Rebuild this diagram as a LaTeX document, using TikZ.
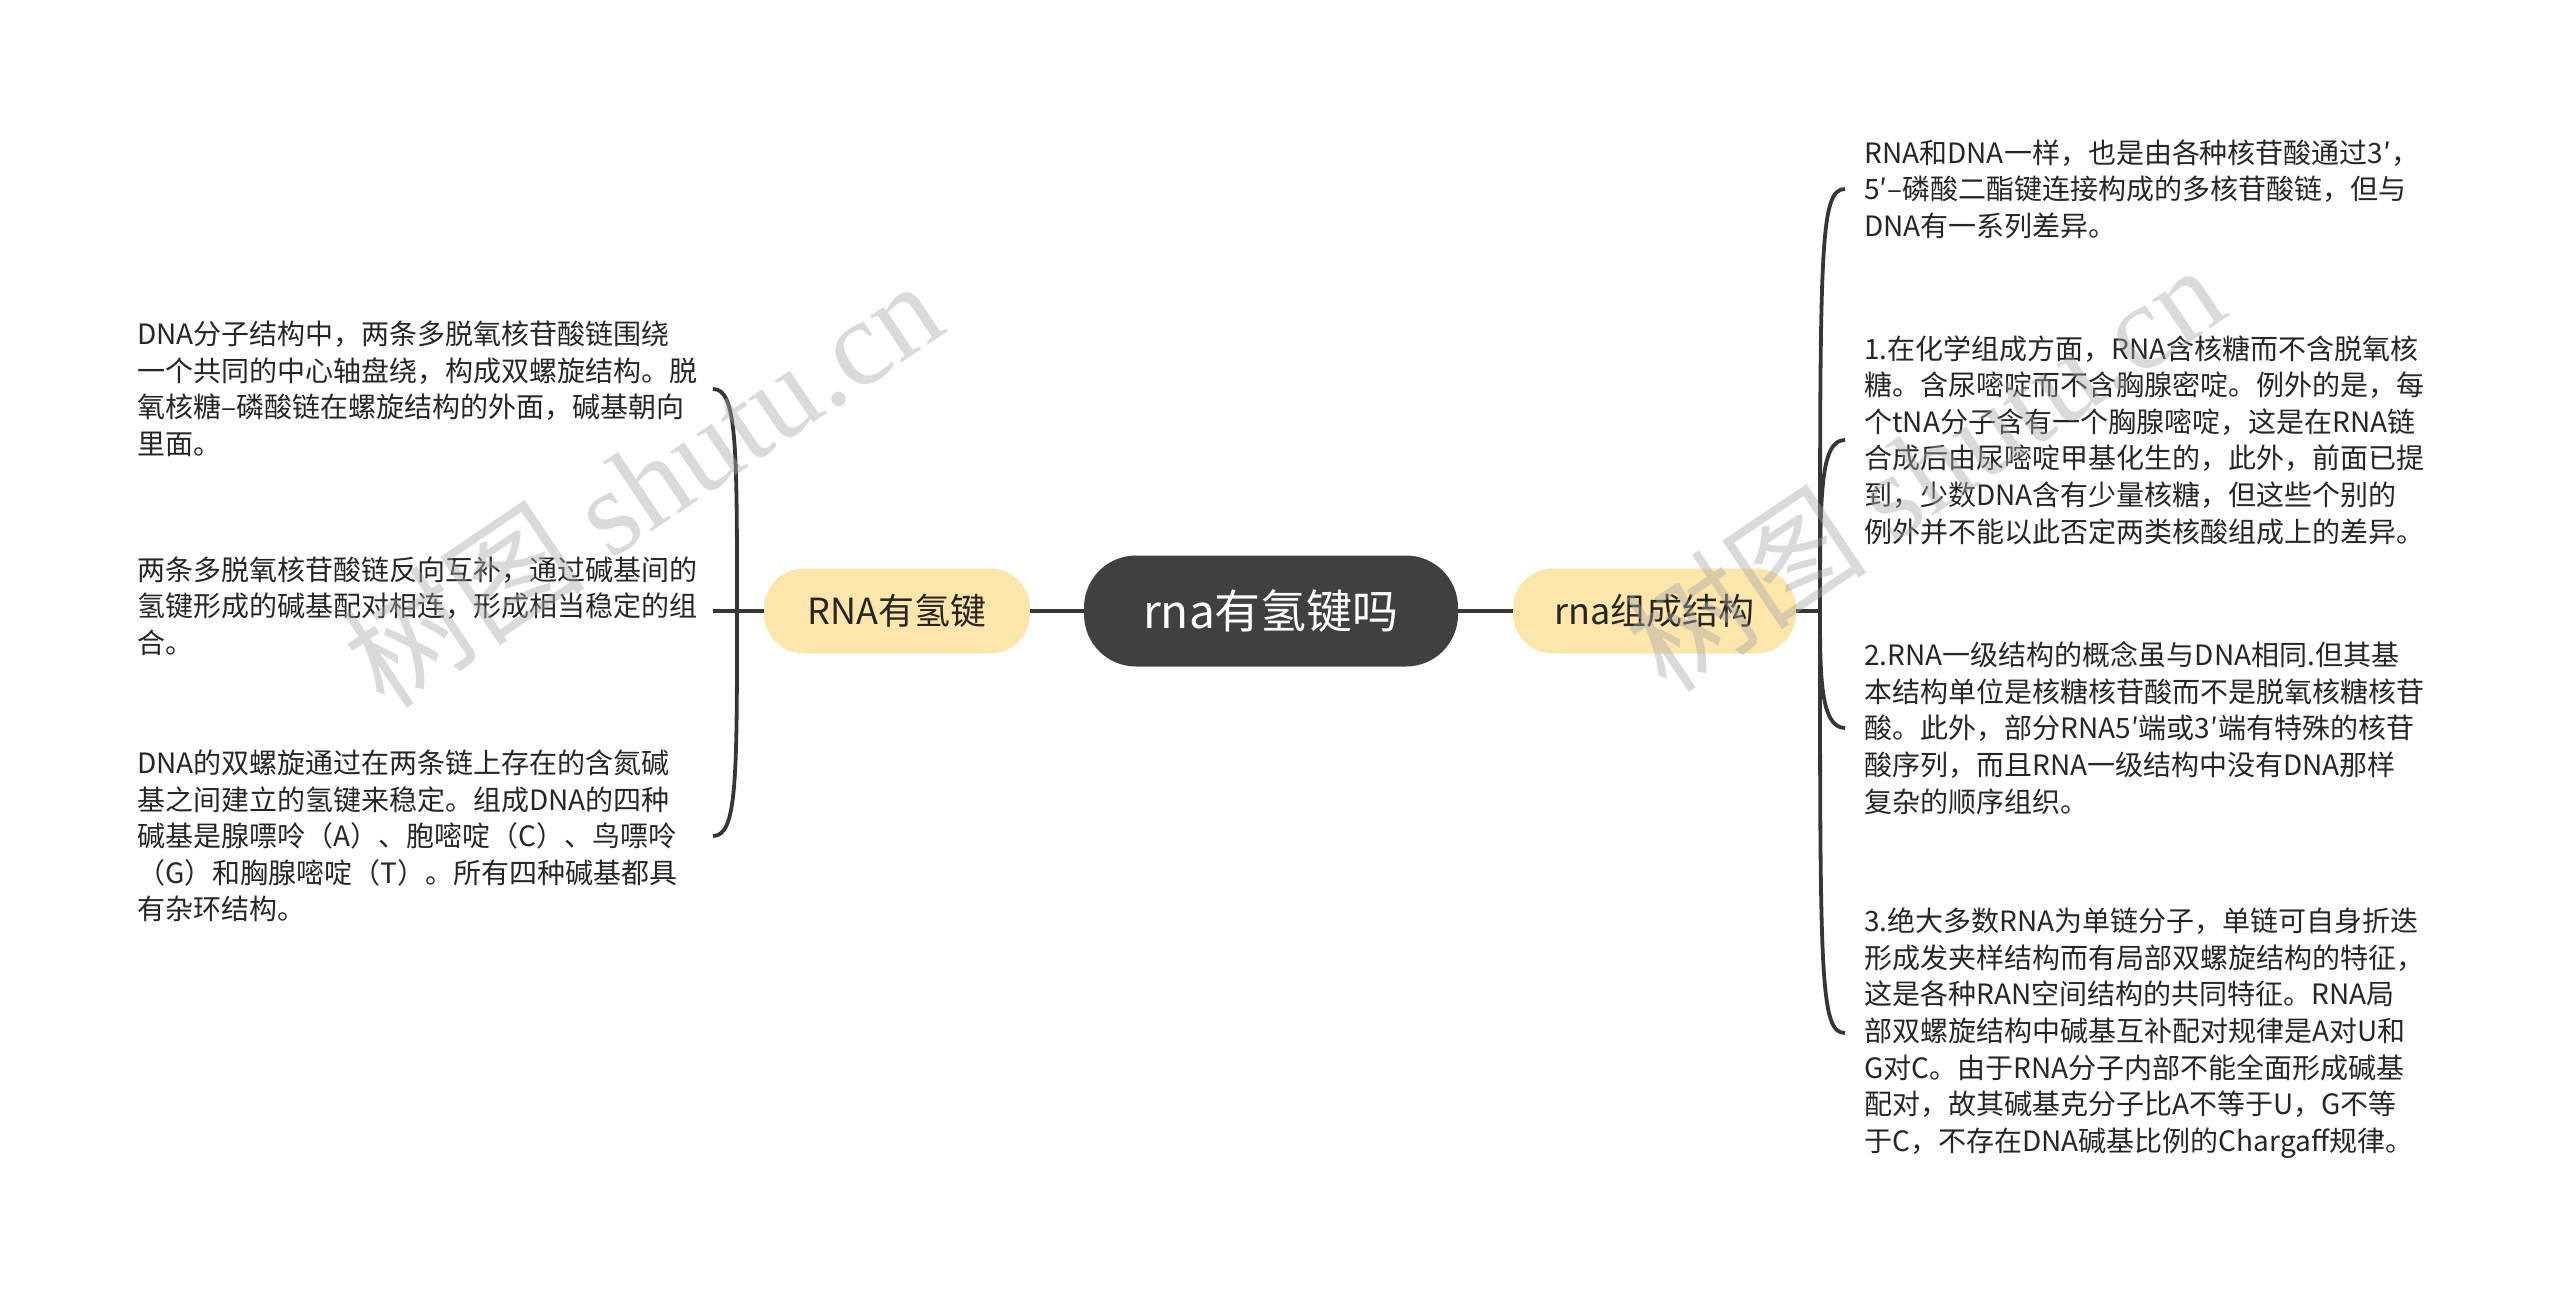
\documentclass[tikz,border=0pt]{standalone}
\usepackage{fontspec}
\setmainfont{Noto Sans CJK SC}
\newfontfamily\wmserif{Liberation Serif}
\definecolor{centrefill}{HTML}{404040}
\definecolor{subfill}{HTML}{FDE6AB}
\definecolor{txtc}{HTML}{262626}
\definecolor{linec}{HTML}{363636}
\definecolor{wmc}{HTML}{A8A8A8}
\begin{document}
\begin{tikzpicture}[x=0.5pt,y=-0.5pt,
  conn/.style={draw=linec,line width=1.9pt},
  centrebox/.style={fill=centrefill,text=white,rounded corners=26pt,minimum width=187pt,minimum height=55.5pt,inner sep=0pt,font=\fontsize{23pt}{27pt}\selectfont},
  subbox/.style={fill=subfill,text=txtc,rounded corners=20pt,minimum height=42.5pt,inner sep=0pt,font=\fontsize{18pt}{22pt}\selectfont},
  txt/.style={text=txtc,align=left,inner sep=0pt,font=\fontsize{14pt}{18.3pt}\selectfont},
  wm/.style={text=wmc,opacity=0.42,inner sep=0pt,font=\fontsize{61pt}{68pt}\selectfont}]
\useasboundingbox (0,0) rectangle (2560,1295);
\fill[white] (0,0) rectangle (2560,1295);

% main nodes
\node[centrebox] (c) at (1271,611) {rna有氢键吗};
\node[subbox,minimum width=133pt] (ln) at (897,611) {RNA有氢键};
\node[subbox,minimum width=141.5pt] (rn) at (1654.5,611) {rna组成结构};

% junctions
\coordinate (jl) at (737,611);
\coordinate (jr) at (1820,611);
\coordinate (lx) at (713,0);

% left texts
\node[txt,anchor=west] (l1) at (137,389) {DNA分子结构中，两条多脱氧核苷酸链围绕\\一个共同的中心轴盘绕，构成双螺旋结构。脱\\氧核糖–磷酸链在螺旋结构的外面，碱基朝向\\里面。};
\node[txt,anchor=west] (l2) at (137,606) {两条多脱氧核苷酸链反向互补，通过碱基间的\\氢键形成的碱基配对相连，形成相当稳定的组\\合。};
\node[txt,anchor=west] (l3) at (137,836) {DNA的双螺旋通过在两条链上存在的含氮碱\\基之间建立的氢键来稳定。组成DNA的四种\\碱基是腺嘌呤（A）、胞嘧啶（C）、鸟嘌呤\\（G）和胸腺嘧啶（T）。所有四种碱基都具\\有杂环结构。};

% right texts
\node[txt,anchor=west] (r1) at (1864,189) {RNA和DNA一样，也是由各种核苷酸通过3′，\\5′–磷酸二酯键连接构成的多核苷酸链，但与\\DNA有一系列差异。};
\node[txt,anchor=west] (r2) at (1864,440) {1.在化学组成方面，RNA含核糖而不含脱氧核\\糖。含尿嘧啶而不含胸腺密啶。例外的是，每\\个tNA分子含有一个胸腺嘧啶，这是在RNA链\\合成后由尿嘧啶甲基化生的，此外，前面已提\\到，少数DNA含有少量核糖，但这些个别的\\例外并不能以此否定两类核酸组成上的差异。};
\node[txt,anchor=west] (r3) at (1864,728) {2.RNA一级结构的概念虽与DNA相同.但其基\\本结构单位是核糖核苷酸而不是脱氧核糖核苷\\酸。此外，部分RNA5′端或3′端有特殊的核苷\\酸序列，而且RNA一级结构中没有DNA那样\\复杂的顺序组织。};
\node[txt,anchor=west] (r4) at (1864,1033) {3.绝大多数RNA为单链分子，单链可自身折迭\\形成发夹样结构而有局部双螺旋结构的特征，\\这是各种RAN空间结构的共同特征。RNA局\\部双螺旋结构中碱基互补配对规律是A对U和\\G对C。由于RNA分子内部不能全面形成碱基\\配对，故其碱基克分子比A不等于U，G不等\\于C，不存在DNA碱基比例的Chargaff规律。};

% main connectors
\draw[conn] (c.west) -- (ln.east);
\draw[conn] (c.east) -- (rn.west);
\draw[conn] (ln.west) -- (jl);
\draw[conn] (rn.east) -- (jr);

% left bracket
\draw[conn] (jl) .. controls (737,445) and (737,389) .. (l1.east -| lx);
\draw[conn] (lx |- jl) -- (jl);
\draw[conn] (jl) .. controls (737,780) and (737,836) .. (l3.east -| lx);

% right bracket
\draw[conn] (jr) .. controls (1820,245) and (1820,189) .. ([xshift=-9.5pt]r1.west);
\draw[conn] (jr) .. controls (1820,495) and (1820,440) .. ([xshift=-9.5pt]r2.west);
\draw[conn] (jr) .. controls (1820,673) and (1820,728) .. ([xshift=-9.5pt]r3.west);
\draw[conn] (jr) .. controls (1820,978) and (1820,1033) .. ([xshift=-9.5pt]r4.west);

% watermarks
\node[wm,rotate=34,anchor=base west] (wm1) at (385,712) {树图 {\wmserif shutu.cn}};
\node[wm,rotate=34,anchor=base west] (wm2) at (1667,696) {树图 {\wmserif shutu.cn}};
\end{tikzpicture}
\end{document}
